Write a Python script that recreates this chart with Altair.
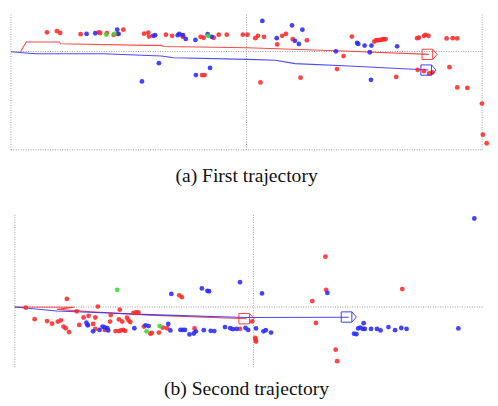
import altair as alt
import pandas as pd

# ---------------- Panel (a): First trajectory (units: m) ----------------
a_red_x = [-8.47, -8.05, -7.91, -7.04, -6.27, -6.21, -5.93, -5.64, -5.47, -5.23,
           -4.35, -4.17, -4.14, -3.42, -3.16, -2.73, -2.70, -1.95, -1.82, -1.39,
           -1.18, -0.84, -0.16, 0.04, -1.89, -1.78, 0.37, 0.48, 0.74, 1.51,
           1.67, 1.96, 1.30, 2.56, 0.59, 2.29, 3.84, 4.12, 4.47,
           5.42, 5.49, 5.56, 5.63, 5.69, 5.76, 5.83, 5.90,
           6.35, 7.24, 7.31, 7.53, 7.60, 7.72, 7.26, 7.53, 7.75, 7.89,
           8.49, 8.75, 8.94, 8.61, 8.94, 9.37, 9.99, 10.03, 10.19]
a_red_y = [0.81, 0.86, 0.78, 0.73, 0.81, 0.78, 0.77, 0.70, 0.74, 0.92,
           0.75, 0.79, 0.63, 0.71, 0.66, 0.67, 0.62, 0.62, 0.58, 0.58,
           0.71, 0.71, 0.71, 0.71, -0.99, -0.99, 0.56, 0.66, 0.62, 0.66,
           0.74, 0.52, 0.30, 0.47, -1.30, -1.10, -0.74, -0.19, 0.63,
           0.42, 0.47, 0.48, 0.48, 0.49, 0.51, 0.52, 0.52,
           -1.07, 0.56, 0.58, 0.66, 0.70, 0.66, -0.77, -0.82, -0.92, -0.88,
           0.55, 0.56, 0.55, -0.66, -1.51, -1.53, -2.19, -3.50, -3.86]
a_blue_x = [-6.79, -6.42, -5.49, -5.43, -3.96, -3.88, -2.92, -2.85, -2.70, -2.58,
            -2.17, -1.65, -1.48, -3.72, -4.44, -2.15, -1.55, 0.67, 1.28, 1.93,
            2.05, 2.22, 2.37, 3.79, 4.69, 4.74, 5.01, 5.30, 5.23, 5.28, 6.39]
a_blue_y = [0.74, 0.77, 0.92, 0.74, 0.66, 0.69, 0.69, 0.74, 0.69, 0.53,
            0.49, 0.73, 0.62, -0.49, -1.26, -0.99, -0.69, 1.29, 0.56, 1.10,
            0.45, 0.32, 0.92, 0.01, 0.36, 0.32, 0.25, 0.25, -0.03, -1.19, 0.22]
a_green_x = [-5.95, -5.61, -1.63]
a_green_y = [0.71, 0.74, 0.66]

a_red_path_x = [-9.59, -9.35, -7.94, -7.90, -4.24, -3.62, -3.54, 0.04, 4.12, 7.74]
a_red_path_y = [-0.01, 0.40, 0.40, 0.33, 0.26, 0.26, 0.21, 0.16, 0.02, -0.12]
a_blue_path_x = [-10.0, -8.97, -6.09, -3.62, -3.09, 0.04, 1.23, 2.06, 4.12, 7.72]
a_blue_path_y = [-0.01, -0.09, -0.09, -0.19, -0.26, -0.33, -0.37, -0.51, -0.60, -0.78]
a_end_x = [7.77, 7.72]
a_end_y = [-0.12, -0.78]

a_grid_x = [-10, 0, 10]
a_grid_y = [0, -4.14]

# ---------------- Panel (b): Second trajectory (units: m) ----------------
b_red_x = [-9.54, -9.17, -8.65, -8.44, -8.20, -8.07, -7.96, -7.87, -7.73, -7.82,
           -7.41, -7.30, -7.12, -6.91, -6.95, -6.72, -6.63, -6.63, -6.52, -6.23,
           -6.01, -5.98, -5.60, -5.64, -5.50, -5.78, -5.64, -5.55, -5.46, -5.38,
           -5.30, -5.23, -5.16, -5.03, -4.92, -4.82, -4.59, -4.32, -4.26, -3.96,
           -3.80, -3.62, -3.11, -3.00, -2.47, -0.56,
           3.02, 3.05, 2.47, 2.62, 3.45, 3.51, 6.24, -0.05, 0.08, 0.09, 0.11]
b_red_y = [-0.03, -0.51, -0.59, -0.70, -0.61, -0.56, -0.82, -0.89, -1.05, 0.34,
           -0.18, -0.75, -0.44, -0.37, -0.75, -0.71, -0.44, -0.92, 0.02, -0.96,
           -0.61, -0.34, -0.11, -0.52, -0.61, -1.01, -1.01, -0.98, -0.96, -1.00,
           -0.45, -0.57, -0.63, -0.25, -0.23, -0.23, -0.82, -1.12, -1.09, -1.07,
           -0.86, -0.89, 0.49, 0.41, -0.90, -0.92,
           2.11, 0.72, 0.25, -0.67, -1.79, -2.27, 0.75, -0.60, -1.29, -1.37, -1.45]
b_blue_x = [-7.00, -6.94, -6.72, -6.45, -6.32, -6.23, -6.09, -6.12, -4.99, -4.52,
            -4.39, -3.57, -3.48, -3.44, -3.06, -2.96, -2.87, -2.68, -2.50, -2.41,
            -2.16, -1.93, -1.86, -2.08, -1.79, -1.64, -1.19, -0.97, -0.86, -0.70,
            -0.56, -0.33, 0.36, 3.10, 9.26, 0.11, -0.22, 0.42, 0.52, 0.74,
            4.22, 4.32, 4.39, 4.48, 4.59, 4.62, 4.67, 4.93, 5.18, 5.33,
            5.66, 5.94, 6.20, 6.42, 8.59]
b_blue_y = [-0.66, -0.77, -1.02, -0.96, -0.82, -0.85, -0.98, -0.89, -0.89, -0.77,
            -0.80, -0.71, -0.98, 0.55, -0.96, -0.96, -0.96, -1.15, -1.11, -1.02,
            0.78, 0.68, 0.66, -0.97, -1.00, -1.01, -0.84, -0.89, -0.93, -0.92,
            1.04, -0.88, 0.57, 0.59, 3.71, -0.90, -0.96, -1.02, -0.97, -1.07,
            -1.12, -1.14, -0.90, -0.86, -0.92, -0.68, -0.92, -0.92, -0.92, -0.98,
            -0.84, -0.97, -0.88, -0.92, -0.90]
b_green_x = [-5.71, -4.48, -3.93]
b_green_y = [0.72, -1.02, -0.80]

b_red_path_x = [-10.0, -7.50, -8.24, -6.80, -4.34, -0.29]
b_red_path_y = [0.0, -0.01, -0.10, -0.20, -0.34, -0.49]
b_blue_path_x = [-10.0, -8.24, -4.34, -0.33, 4.00]
b_blue_path_y = [0.0, -0.17, -0.32, -0.44, -0.43]
b_end_x = [-0.29, 4.00]
b_end_y = [-0.49, -0.42]

b_grid_x = [-10, 0]
b_grid_y = [0]

captions = ["(a) First trajectory", "(b) Second trajectory"]

RED = "#ff2a2a"
BLUE = "#2a2aff"
GREEN = "#33dd33"
GRID = "#9a9a9a"
BOX = "M-1,-0.68L0.4,-0.68L1,0L0.4,0.68L-1,0.68Z M0.4,-0.68L0.4,0.68"


def points_df(rx, ry, bx, by, gx, gy):
    return pd.DataFrame({
        "x": rx + bx + gx,
        "y": ry + by + gy,
        "c": [RED] * len(rx) + [BLUE] * len(bx) + [GREEN] * len(gx),
    })


def path_df(xs, ys):
    return pd.DataFrame({"x": xs, "y": ys, "seq": list(range(len(xs)))})


def panel(xdom, ydom, grid_df, red_path, blue_path, end_x, end_y, pts, caption, cap_y, height):
    X = alt.X("x:Q", scale=alt.Scale(domain=xdom, nice=False, zero=False), axis=None)
    Y = alt.Y("y:Q", scale=alt.Scale(domain=ydom, nice=False, zero=False), axis=None)
    grid = alt.Chart(grid_df).mark_rule(color=GRID, strokeDash=[1, 1.5], strokeWidth=1).encode(
        x=X, y=Y, x2="x2:Q", y2="y2:Q")
    rline = alt.Chart(red_path).mark_line(color=RED, strokeWidth=1.1, opacity=0.85).encode(
        x=X, y=Y, order="seq:Q")
    bline = alt.Chart(blue_path).mark_line(color=BLUE, strokeWidth=1.1, opacity=0.85).encode(
        x=X, y=Y, order="seq:Q")
    boxes = alt.Chart(pd.DataFrame({"x": end_x, "y": end_y, "c": [RED, BLUE]})).mark_point(
        shape=BOX, size=240, filled=False, strokeWidth=1, opacity=0.9).encode(
        x=X, y=Y, color=alt.Color("c:N", scale=None))
    dots = alt.Chart(pts).mark_circle(size=24, opacity=0.88).encode(
        x=X, y=Y, color=alt.Color("c:N", scale=None))
    text = alt.Chart(pd.DataFrame({"t": [caption]})).mark_text(
        font="Liberation Serif", fontSize=20, align="center", baseline="alphabetic", color="#111").encode(
        text="t:N", x=alt.value(241), y=alt.value(cap_y))
    return alt.layer(grid, rline, bline, dots, boxes, text).properties(width=482, height=height)


# grid segments
a_grid = pd.DataFrame({
    "x": [g for g in a_grid_x] + [a_grid_x[0]] * len(a_grid_y),
    "x2": [g for g in a_grid_x] + [a_grid_x[-1]] * len(a_grid_y),
    "y": [a_grid_y[-1]] * len(a_grid_x) + a_grid_y,
    "y2": [1.6] * len(a_grid_x) + a_grid_y,
})
b_grid = pd.DataFrame({
    "x": b_grid_x + [b_grid_x[0]],
    "x2": b_grid_x + [9.67],
    "y": [-2.53] * len(b_grid_x) + b_grid_y,
    "y2": [3.91] * len(b_grid_x) + b_grid_y,
})

BOTTOM_H = 198
top = panel([-10, 10], [-6.502, 1.605], a_grid,
            path_df(a_red_path_x, a_red_path_y), path_df(a_blue_path_x, a_blue_path_y),
            a_end_x, a_end_y,
            points_df(a_red_x, a_red_y, a_blue_x, a_blue_y, a_green_x, a_green_y),
            captions[0], 172, 197)
bottom = panel([-10.164, 9.590], [4.234 - BOTTOM_H / 24.4, 4.234], b_grid,
               path_df(b_red_path_x, b_red_path_y), path_df(b_blue_path_x, b_blue_path_y),
               b_end_x, b_end_y,
               points_df(b_red_x, b_red_y, b_blue_x, b_blue_y, b_green_x, b_green_y),
               captions[1], 193, BOTTOM_H)

chart = alt.vconcat(top, bottom, spacing=0).properties(padding=0).configure_view(
    stroke="white", strokeOpacity=0, strokeWidth=0.01)

chart.save("out.html", embed_options={"renderer": "svg", "actions": False})
